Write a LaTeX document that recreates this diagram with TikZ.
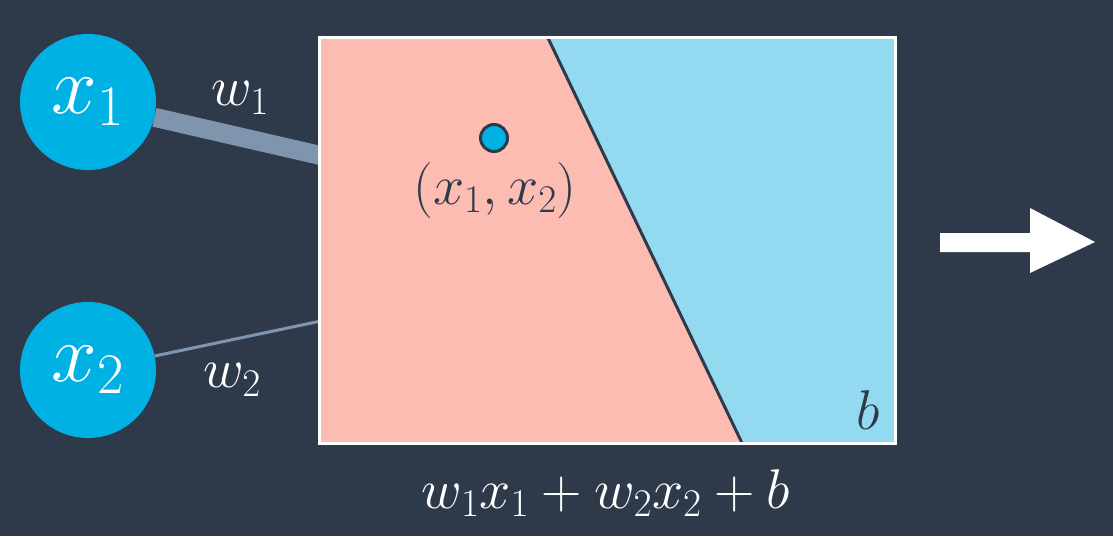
\RequirePackage{fix-cm}
\documentclass[tikz,border=0pt]{standalone}
\definecolor{bg}{RGB}{46,58,74}
\definecolor{nodeblue}{RGB}{0,178,227}
\definecolor{regionpink}{RGB}{253,188,178}
\definecolor{regionblue}{RGB}{147,217,239}
\definecolor{edgegray}{RGB}{127,149,174}
\definecolor{ink}{RGB}{46,58,74}
\tikzset{
  inputnode/.style={circle, fill=nodeblue, minimum size=136pt, inner sep=0pt, text=white, font=\fontsize{82}{90}\selectfont},
  wlabel/.style={text=white, inner sep=0pt, font=\fontsize{56}{60}\selectfont},
  inklabel/.style={text=ink, inner sep=0pt, font=\fontsize{56}{60}\selectfont},
  edgeline/.style={draw=edgegray},
}
\begin{document}
\begin{tikzpicture}[x=1pt,y=-1pt]
\fill[bg] (0,0) rectangle (1113,536);
\useasboundingbox (0,0) rectangle (1113,536);
% inputs
\node[inputnode] (x1) at (88,102) {$x_1$};
\node[inputnode] (x2) at (88,370) {$x_2$};
\coordinate (in1) at (340,160);
\coordinate (in2) at (340,317);
\draw[edgeline, line width=19pt] (x1) -- (in1);
\draw[edgeline, line width=3pt] (x2) -- (in2);
% regions
\fill[regionpink] (319,37) -- (548,37) -- (742,443) -- (319,443) -- cycle;
\fill[regionblue] (548,37) -- (895,37) -- (895,443) -- (742,443) -- cycle;
\coordinate (lt) at (548,38);
\coordinate (lb) at (742,443);
\draw[ink, line width=3pt] (lt) -- (lb);
\node[draw=white, line width=3pt, minimum width=576pt, minimum height=406pt, inner sep=0pt] (box) at (607,240) {};
\node[wlabel] (w1) at (240,98) {$w_1$};
\node[wlabel] (w2) at (232,380) {$w_2$};
% point
\node[circle, draw=ink, line width=3pt, fill=nodeblue, minimum size=27pt, inner sep=0pt] (pt) at (494,138) {};
\node[inklabel] (ptl) at (495,190) {$(x_1,x_2)$};
\node[inklabel] (b) at (868,410) {$b$};
\node[wlabel] (sum) at (606,493) {$w_1x_1+w_2x_2+b$};
% output arrow
\fill[white] (940,233) -- (1030,233) -- (1030,208) -- (1095,242) -- (1030,273) -- (1030,252) -- (940,252) -- cycle;
\end{tikzpicture}
\end{document}
